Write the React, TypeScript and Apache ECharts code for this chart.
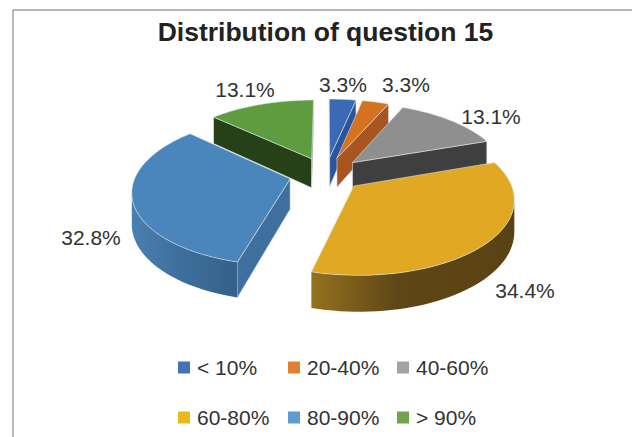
import React, { useEffect, useRef } from "react";
import * as echarts from "echarts";

const categories = ["< 10%", "20-40%", "40-60%", "60-80%", "80-90%", "> 90%"];
const shares = [3.3, 3.3, 13.1, 34.4, 32.8, 13.1];
const topColors = ["#3a6ab4", "#d4721f", "#8f8f8f", "#e0a823", "#4a86bc", "#5f9c40"];
const legendColors = ["#4472b8", "#e0812f", "#a3a3a3", "#ecb81f", "#5f9bcd", "#70a54c"];
const cutColors = ["#2a549c", "#a9551f", "#3f3f3f", "#5f4518", "#3e6f9f", "#264018"];
const wallLeft = ["#2a549c", "#a9551f", "#3f3f3f", "#95721f", "#4a80b0", "#264018"];
const wallMid = ["#2a549c", "#a9551f", "#3f3f3f", "#5f4616", "#3f709d", "#264018"];
const wallRight = ["#2a549c", "#a9551f", "#3f3f3f", "#594214", "#34608a", "#264018"];
const drawOrder = [2, 3, 4, 6, 5, 1];
const labelPositions = [[343, 84], [406, 84], [491, 116], [525, 290], [91, 237], [245, 89]];
const legendPositions = [[178, 357], [288, 357], [397, 357], [178, 407], [288, 407], [397, 407]];

const CX = 326, CY = 174, RX = 154, RY = 71.8, PERSP = 0.151, EXPLODE = 0.24, DEPTH = 30;

function project(X: number, Y: number) {
  const s = 1 / (1 - PERSP * Y);
  return { x: CX + X * RX * s, y: CY + Y * RY * s, s };
}

function slicePoints(index: number) {
  const total = shares.reduce((a, b) => a + b, 0);
  const before = shares.slice(0, index).reduce((a, b) => a + b, 0);
  const a0 = (before / total) * 2 * Math.PI;
  const a1 = ((before + shares[index]) / total) * 2 * Math.PI;
  const mid = (a0 + a1) / 2;
  const ox = EXPLODE * Math.sin(mid);
  const oy = -EXPLODE * Math.cos(mid);
  const steps = Math.max(4, Math.ceil((a1 - a0) / 0.04));
  const arc = [];
  for (let i = 0; i <= steps; i++) {
    const a = a0 + ((a1 - a0) * i) / steps;
    arc.push(project(ox + Math.sin(a), oy - Math.cos(a)));
  }
  return { apex: project(ox, oy), arc };
}

function down(p: { x: number; y: number; s: number }) {
  return [p.x, p.y + DEPTH * p.s];
}

function renderSlice(index: number) {
  const { apex, arc } = slicePoints(index);
  const children: any[] = [];
  const edge = { stroke: "rgba(225,232,238,0.7)", lineWidth: 0.8 };
  const wall = (a: any, b: any, fill: any) => ({
    type: "polygon",
    shape: { points: [[a.x, a.y], [b.x, b.y], down(b), down(a)] },
    style: { fill, ...edge },
  });
  const start = arc[0];
  const end = arc[arc.length - 1];
  // Only edges running leftwards on screen face the viewer, as the outline runs clockwise.
  if (start.x < apex.x) children.push(wall(apex, start, cutColors[index]));
  if (apex.x < end.x) children.push(wall(end, apex, cutColors[index]));
  const front = [];
  for (let i = 0; i < arc.length - 1; i++) {
    if (arc[i + 1].x < arc[i].x) {
      if (!front.length) front.push(arc[i]);
      front.push(arc[i + 1]);
    }
  }
  if (front.length) {
    const pts = [
      ...front.map((p) => [p.x, p.y]),
      ...front.slice().reverse().map(down),
    ];
    children.push({
      type: "polygon",
      shape: { points: pts },
      style: {
        fill: new echarts.graphic.LinearGradient(0, 0, 1, 0, [
          { offset: 0, color: wallLeft[index] },
          { offset: 0.42, color: wallMid[index] },
          { offset: 1, color: wallRight[index] },
        ]),
        stroke: "none",
      },
    });
  }
  children.push({
    type: "polygon",
    shape: { points: [[apex.x, apex.y], ...arc.map((p) => [p.x, p.y])] },
    style: { fill: topColors[index], ...edge },
  });
  children.push({
    type: "text",
    style: {
      text: shares[index].toFixed(1) + "%",
      x: labelPositions[index][0],
      y: labelPositions[index][1],
      align: "center",
      verticalAlign: "middle",
      fill: "#333333",
      font: '21px "Liberation Sans"',
    },
  });
  return { type: "group", children };
}

export default function App() {
  const ref = useRef<HTMLDivElement>(null);
  useEffect(() => {
    const chart = echarts.init(ref.current!, undefined, { renderer: "svg" });
    chart.setOption({
      animation: false,
      backgroundColor: "#ffffff",
      title: {
        text: "Distribution of question 15",
        left: 325.5,
        top: 18,
        padding: 0,
        textAlign: "center",
        textStyle: { fontFamily: "Liberation Sans", fontWeight: "bold", fontSize: 26.5, color: "#222222" },
      },
      legend: categories.map((name, i) => ({
        data: [{ name, itemStyle: { color: legendColors[i] } }],
        left: legendPositions[i][0],
        top: legendPositions[i][1],
        padding: 0,
        icon: "rect",
        itemWidth: 12,
        itemHeight: 12,
        itemGap: 0,
        selectedMode: false,
        textStyle: { fontFamily: "Liberation Sans", fontSize: 21, color: "#333333", padding: [0, 0, 0, 2] },
      })),
      graphic: [
        {
          type: "polyline",
          shape: { points: [[13, 437], [13, 10], [632, 10]] },
          style: { stroke: "#707070", lineWidth: 1, fill: "none" },
        },
      ],
      series: categories.map((name, i) => ({
        type: "custom",
        name,
        coordinateSystem: "none",
        z: drawOrder[i] + 2,
        itemStyle: { color: legendColors[i] },
        data: [shares[i]],
        renderItem: () => renderSlice(i),
      })),
    });
    return () => chart.dispose();
  }, []);
  return <div ref={ref} style={{ position: "fixed", left: 0, top: 0, width: 632, height: 437 }} />;
}
